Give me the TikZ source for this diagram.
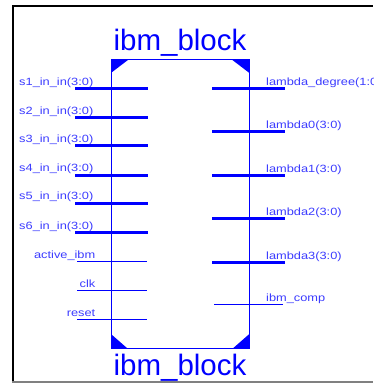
\documentclass[tikz,border=0pt]{standalone}
\usepackage{fontspec}
\setmainfont{Liberation Sans}
\definecolor{pinblue}{RGB}{0,0,255}
\definecolor{lblblue}{RGB}{60,60,255}
\begin{document}
\begin{tikzpicture}[x=1pt,y=-1pt,
  frame/.style={black,line width=2pt},
  blockline/.style={pinblue,line width=1pt},
  bus/.style={pinblue,line width=3pt},
  wire/.style={pinblue,line width=0.9pt},
  corner/.style={fill=pinblue,draw=none},
  title/.style={inner sep=0pt,text=pinblue,font=\fontsize{29.5}{32}\selectfont},
  lbl/.style={inner sep=0pt,text=lblblue,font=\fontsize{10.5}{12}\selectfont}
]
\useasboundingbox (0,0) rectangle (373,383);
\clip (0,0) rectangle (373,383);
\fill[white] (0,0) rectangle (373,383);
% outer frame
\draw[frame] (13,383) -- (13,5.5) -- (373,5.5);
\draw[gray,line width=1.5pt] (12,382) -- (373,382);
% block
\coordinate (tl) at (111.3,59.7);
\coordinate (tr) at (249,59.7);
\coordinate (br) at (249,348.3);
\coordinate (bl) at (111.3,348.3);
\draw[blockline] (tl) rectangle (br);
\fill[corner] (tl) -- ++(17,0) -- ++(-17,13) -- cycle;
\fill[corner] (tr) -- ++(-17,0) -- ++(17,13) -- cycle;
\fill[corner] (bl) -- ++(16,0) -- ++(-16,-14) -- cycle;
\fill[corner] (br) -- ++(-16,0) -- ++(16,-14) -- cycle;
\node[title,anchor=base] (ttop) at (180,50) {ibm\_block};
\node[title,anchor=base] (tbot) at (180,375) {ibm\_block};
% left bus inputs
\foreach \n/\y/\t in {a/88.3/s1\_in\_in(3:0),b/117.3/s2\_in\_in(3:0),c/145.7/s3\_in\_in(3:0),d/175/s4\_in\_in(3:0),e/203/s5\_in\_in(3:0),f/232.7/s6\_in\_in(3:0)}{
  \coordinate (li\n) at (75,\y);
  \coordinate (lo\n) at (148,\y);
  \draw[bus] (li\n) -- (lo\n);
  \node[lbl,anchor=base east] (ll\n) at (93.5,\y-3.3) {\scalebox{1.22}[1]{\t}};
}
% left single inputs
\foreach \n/\y/\t in {g/261.7/active\_ibm,h/290.7/clk,k/319.3/reset}{
  \coordinate (li\n) at (77,\y);
  \coordinate (lo\n) at (147,\y);
  \draw[wire] (li\n) -- (lo\n);
  \node[lbl,anchor=base east] (ll\n) at (95.5,\y-3) {\scalebox{1.22}[1]{\t}};
}
% right bus outputs
\foreach \n/\y/\t in {a/88.3/lambda\_degree(1:0),b/131.7/lambda0(3:0),c/175.3/lambda1(3:0),d/218/lambda2(3:0),e/262/lambda3(3:0)}{
  \coordinate (ri\n) at (212,\y);
  \coordinate (ro\n) at (285,\y);
  \draw[bus] (ri\n) -- (ro\n);
  \node[lbl,anchor=base west] (rl\n) at (266,\y-3) {\scalebox{1.22}[1]{\t}};
}
% right single output
\coordinate (rif) at (214,304);
\coordinate (rof) at (283,304);
\draw[wire] (rif) -- (rof);
\node[lbl,anchor=base west] (rlf) at (266,301) {\scalebox{1.22}[1]{ibm\_comp}};
\end{tikzpicture}
\end{document}
